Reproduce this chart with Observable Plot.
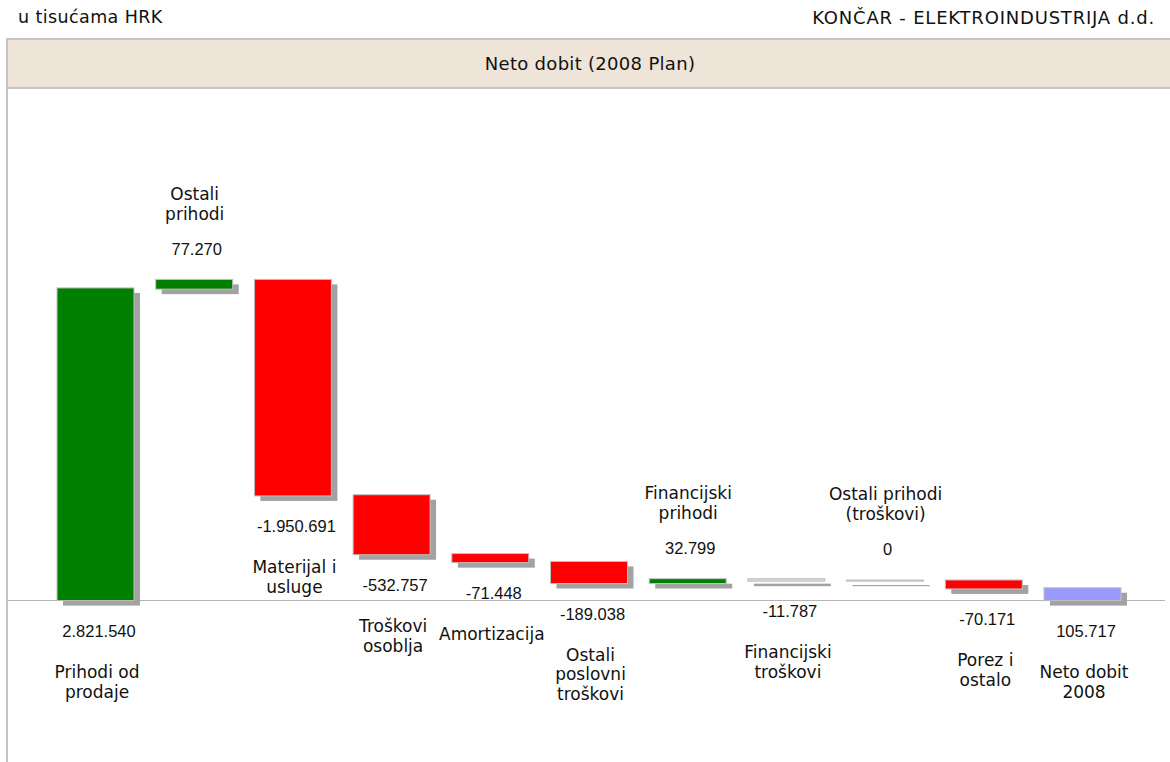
<!DOCTYPE html>
<html>
<head>
<meta charset="utf-8">
<script src="https://cdn.jsdelivr.net/npm/d3@7"></script>
<script src="https://cdn.jsdelivr.net/npm/@observablehq/plot@0.6"></script>
<style>
  html, body { margin: 0; padding: 0; background: #fff; }
  body { width: 1170px; height: 762px; position: relative; overflow: hidden; font-family: "DejaVu Sans", sans-serif; color: #111; }
  #left { position: absolute; left: 18px; top: 7px; font-size: 17.5px; letter-spacing: 0.4px; }
  #right { position: absolute; right: 15px; top: 7px; font-size: 18px; letter-spacing: 0.8px; }
  #frame { position: absolute; left: 6px; top: 38px; width: 1164px; height: 724px; border-left: 2px solid #c4c4c4; }
  #title { height: 47px; background: #efe4d8; border-top: 2px solid #c4c4c4; border-bottom: 2px solid #c4c4c4; text-align: center; line-height: 47px; font-size: 18px; letter-spacing: 0.3px; }
  #chart { position: absolute; left: 8px; top: 90px; }
</style>
</head>
<body>
<div id="left">u tisućama HRK</div>
<div id="right">KONČAR - ELEKTROINDUSTRIJA d.d.</div>
<div id="frame"><div id="title">Neto dobit (2008 Plan)</div></div>
<div id="chart"></div>
<script>
const categories = ["Prihodi od\nprodaje", "Ostali\nprihodi", "Materijal i\nusluge", "Troškovi\nosoblja", "Amortizacija", "Ostali\nposlovni\ntroškovi", "Financijski\nprihodi", "Financijski\ntroškovi", "Ostali prihodi\n(troškovi)", "Porez i\nostalo", "Neto dobit\n2008"];
const values = [2821540, 77270, -1950691, -532757, -71448, -189038, 32799, -11787, 0, -70171, 105717];
const kinds = ["start", "step", "step", "step", "step", "step", "step", "step", "step", "step", "total"];

const colors = {up: "#008000", down: "#ff0000", zero: "#d8d8d8", total: "#9999ff"};
const fmt = d3.formatLocale({decimal: ",", thousands: ".", grouping: [3], currency: ["", ""], minus: "-"}).format(",d");

let run = 0;
const data = categories.map((c, i) => {
  const v = values[i];
  let y1, y2;
  if (kinds[i] === "total") { y1 = 0; y2 = v; }
  else { y1 = run; y2 = run + v; run = y2; }
  const color = kinds[i] === "total" ? colors.total : Math.abs(v) < 20000 && v <= 0 ? colors.zero : v > 0 ? colors.up : colors.down;
  const above = kinds[i] === "step" && v >= 0;
  return {cat: c, value: v, label: fmt(v), y1, y2, lo: Math.min(y1, y2), hi: Math.max(y1, y2), color, above};
});
const maxTop = d3.max(data, d => d.hi);

const below = data.filter(d => !d.above);
const aboveD = data.filter(d => d.above);

const chart = Plot.plot({
  width: 1162,
  height: 672,
  marginTop: 190,
  marginBottom: 162,
  marginLeft: 0,
  marginRight: 5,
  x: {type: "band", domain: categories, range: [49, 1113], paddingInner: 0.22, paddingOuter: 0, round: false, axis: null},
  y: {domain: [0, maxTop], axis: null},
  marks: [
    Plot.ruleY([0], {stroke: "#b4b4b4", strokeWidth: 1.2}),
    Plot.barY(data, {x: "cat", y1: "y1", y2: "y2", fill: "#a2a2a2", dx: 6, dy: 5, insetTop: -0.6, insetBottom: -0.6}),
    Plot.barY(data, {x: "cat", y1: "y1", y2: "y2", fill: "color", stroke: "#c0c0c0", strokeWidth: 1, insetTop: -0.6, insetBottom: -0.6}),
    Plot.text(below, {x: "cat", y: "lo", text: "label", dy: 31, dx: 3, fontSize: 16.5, fontFamily: "Liberation Sans, Arial, sans-serif", fill: "#111"}),
    Plot.text(below, {x: "cat", y: "lo", text: "cat", dy: 63, dx: 1, lineAnchor: "top", lineHeight: 1.17, fontSize: 17, fontFamily: "DejaVu Sans, sans-serif", fill: "#111"}),
    Plot.text(aboveD, {x: "cat", y: "hi", text: "label", dy: -31, dx: 2, fontSize: 16.5, fontFamily: "Liberation Sans, Arial, sans-serif", fill: "#111"}),
    Plot.text(aboveD, {x: "cat", y: "hi", text: "cat", dy: -61, dx: 0, lineAnchor: "bottom", lineHeight: 1.17, fontSize: 17, fontFamily: "DejaVu Sans, sans-serif", fill: "#111"})
  ]
});
document.getElementById("chart").appendChild(chart);
</script>
</body>
</html>
